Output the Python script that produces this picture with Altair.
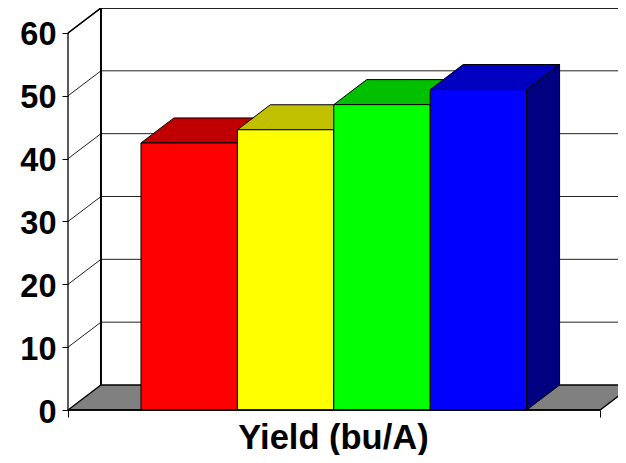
import altair as alt
import pandas as pd

# Data
categories = ["Red", "Yellow", "Green", "Blue"]
yields = [42.5, 44.6, 48.6, 51.0]
front_colors = ["#FF0000", "#FFFF00", "#00FF00", "#0000FF"]
top_colors = ["#C00000", "#C0C000", "#00C000", "#0000C0"]
side_colors = ["#800000", "#808000", "#008000", "#000080"]
y_ticks = [0, 10, 20, 30, 40, 50, 60]

# Pseudo-3D projection, in data units (bar width = 1 x-unit)
X_MAX = 5.705      # right end of the visible plot
AXIS_END = 5.519   # right end of the front baseline
BAR_START = 0.757  # first bar's left edge
DX = 0.342         # depth of the chart along x
DY = 3.98          # depth of the chart along y
Y_MAX = 63.66

xs = alt.Scale(domain=[0, X_MAX], nice=False, zero=False)
ys = alt.Scale(domain=[0, Y_MAX], nice=False, zero=False)

x_axis = alt.Axis(
    values=[0, AXIS_END], labels=False, grid=False, domain=False,
    tickSize=7, tickColor="#000000", tickWidth=1,
    title="Yield (bu/A)", titleFont="Liberation Sans", titleFontWeight="bold",
    titleFontSize=34.5, titleColor="#000000", titleX=265, titleY=38.5,
    titleBaseline="alphabetic", titleAlign="center",
)
y_axis = alt.Axis(
    values=y_ticks, grid=False, domain=False, tickSize=6,
    tickColor="#000000", tickWidth=1, labelFont="Liberation Sans",
    labelFontWeight="bold", labelFontSize=32.5, labelColor="#000000",
    labelPadding=6, labelOffset=2, title=None,
)


def poly(points, fill=None, stroke="#000000", width=1.0, closed=True):
    df = pd.DataFrame(points, columns=["x", "y"])
    df["k"] = range(len(df))
    kw = dict(stroke=stroke, strokeWidth=width, strokeJoin="miter")
    if closed:
        kw["interpolate"] = "linear-closed"
    if fill:
        kw["fill"] = fill
    return alt.Chart(df).mark_line(**kw).encode(
        x=alt.X("x:Q", scale=xs, axis=x_axis),
        y=alt.Y("y:Q", scale=ys, axis=y_axis),
        order="k:Q",
    )


layers = []

# Gridlines on the left wall and back wall
for v in y_ticks:
    if 0 < v:
        layers.append(poly([(0, v), (DX, v + DY), (X_MAX + 1, v + DY)],
                           stroke="#222222", width=1.2 if v == 60 else 1, closed=False))

# Floor
layers.append(poly([(0, 0), (DX, DY), (AXIS_END + DX, DY), (AXIS_END, 0)],
                   fill="#808080", stroke="#000000", width=1.3))
# Back wall's left edge and front vertical axis
layers.append(poly([(DX, DY), (DX, 60 + DY)], width=2, closed=False))
layers.append(poly([(0, 0), (0, 60)], width=1.3, closed=False))
layers.append(poly([(0, 60), (DX, 60 + DY), (X_MAX + 1, 60 + DY)], width=1.5, closed=False))

# Bars, painted left to right
for i, v in enumerate(yields):
    a = BAR_START + i
    b = a + 1
    layers.append(poly([(a, v), (a + DX, v + DY), (b + DX, v + DY), (b, v)], fill=top_colors[i]))
    layers.append(poly([(b, 0), (b + DX, DY), (b + DX, v + DY), (b, v)], fill=side_colors[i]))
    front = pd.DataFrame({"x": [a], "x2": [b], "y": [v], "y2": [0.0], "cat": [categories[i]]})
    layers.append(
        alt.Chart(front).mark_rect(fill=front_colors[i], stroke="#000000", strokeWidth=1).encode(
            x=alt.X("x:Q", scale=xs, axis=x_axis), x2="x2:Q",
            y=alt.Y("y:Q", scale=ys, axis=y_axis), y2="y2:Q",
        )
    )

# Front baseline drawn on top
layers.append(poly([(0, 0), (AXIS_END, 0)], width=1.4, closed=False))

chart = alt.layer(*layers).properties(
    width=550, height=400,
    autosize=alt.AutoSizeParams(type="none"),
    padding={"left": 60, "right": 0, "top": 2, "bottom": 45},
    background="#FFFFFF",
).configure_view(stroke=None)

chart.save("out.html", embed_options={"renderer": "svg", "actions": False})
